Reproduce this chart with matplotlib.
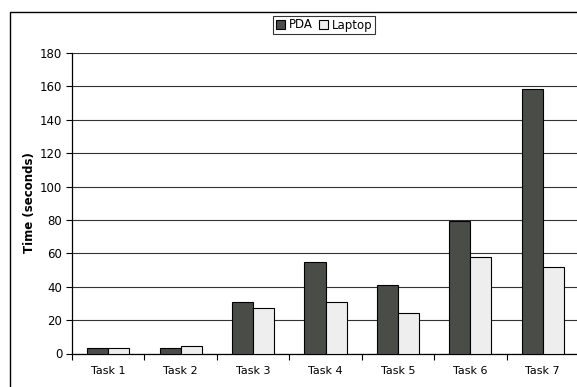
import matplotlib
matplotlib.use("Agg")
import matplotlib.pyplot as plt
from matplotlib.patches import Rectangle
import numpy as np

categories = ["Task 1", "Task 2", "Task 3", "Task 4", "Task 5", "Task 6", "Task 7"]
pda = [3.1, 3.5, 30.7, 54.6, 40.9, 79.4, 158.7]
laptop = [3.1, 4.7, 27.1, 31.0, 24.4, 57.6, 52.0]
yticks = [0, 20, 40, 60, 80, 100, 120, 140, 160, 180]

plt.rcParams['font.family'] = ['DejaVu Sans']
W, H = 577, 387
fig = plt.figure(figsize=(W/100, H/100), dpi=100)
fig.patch.set_facecolor('white')

# outer chart border (extends past right/bottom edges like the reference)
fig.patches.append(Rectangle((10/W, -0.1), 1.5, 1 - 12/H + 0.1, transform=fig.transFigure,
                             fill=False, edgecolor='black', linewidth=1.0))

ax = fig.add_axes([72/W, 1 - 353.5/H, (579-72)/W, (353.5-53)/H])
x = np.arange(len(categories))
bw = 0.29
ax.bar(x - bw/2, pda, bw, color='#4a4c48', edgecolor='black', linewidth=0.8, label='PDA', zorder=3)
ax.bar(x + bw/2, laptop, bw, color='#eeeeee', edgecolor='black', linewidth=0.8, label='Laptop', zorder=3)

ax.set_xlim(-0.5, 6.5)
ax.set_ylim(0, 180)
ax.set_yticks(yticks)
ax.set_xticks(x)
ax.set_xticklabels(categories, fontsize=8)
ax.set_xticks(np.arange(-0.5, 7.0, 1.0), minor=True)
ax.tick_params(axis='x', which='major', length=0, pad=9)
ax.tick_params(axis='x', which='minor', length=4, width=0.8, direction='out', color='black')
ax.tick_params(axis='y', length=4, width=0.8, direction='out', labelsize=8.5, pad=3)
for s in ['top', 'right']:
    ax.spines[s].set_visible(False)
for s in ['left', 'bottom']:
    ax.spines[s].set_linewidth(0.9)
    ax.spines[s].set_color('black')
ax.grid(axis='y', color='#333333', linewidth=0.8, zorder=0)
ax.set_axisbelow(True)

fig.text(30/W, 1 - 203/H, 'Time (seconds)', rotation=90, fontsize=8.5, fontweight='bold',
         ha='center', va='center')

leg = fig.legend(loc='center', bbox_to_anchor=(324/W, 1 - 25/H), ncol=2, fontsize=8.5,
                 frameon=True, fancybox=False, edgecolor='black', handlelength=0.8,
                 handleheight=0.8, handletextpad=0.3, columnspacing=0.5,
                 borderpad=0.25, borderaxespad=0)
leg.get_frame().set_linewidth(0.8)

fig.savefig('out.png', dpi=100)
